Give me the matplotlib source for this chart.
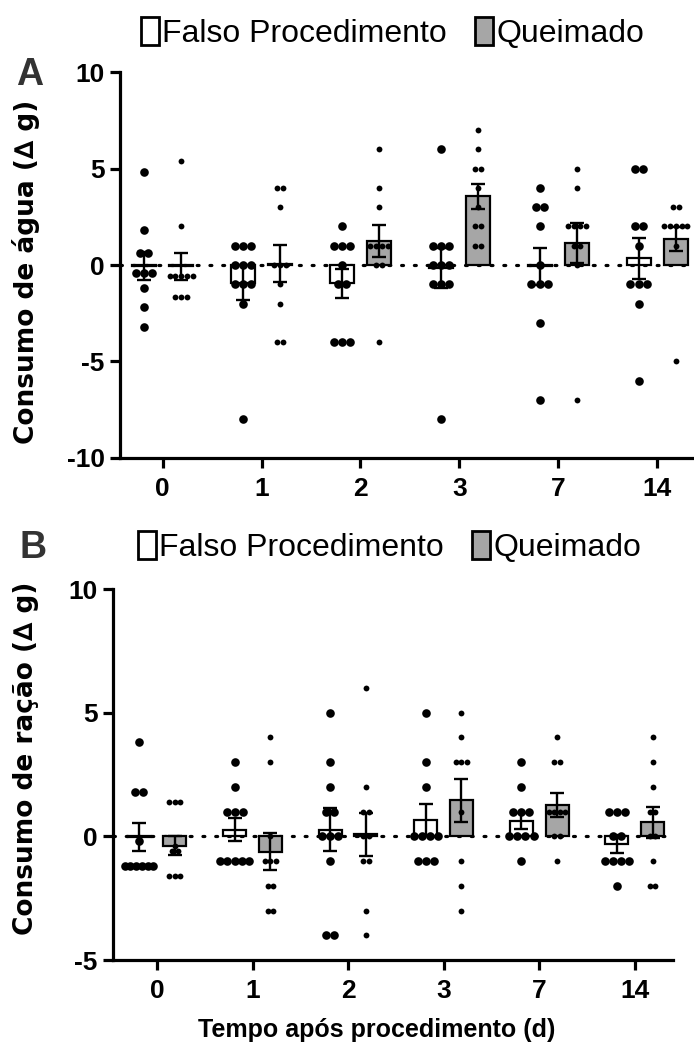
import numpy as np
import matplotlib
matplotlib.use("Agg")
import matplotlib.pyplot as plt
from matplotlib.patches import Patch

plt.rcParams['font.family'] = ['Liberation Sans', 'DejaVu Sans']
plt.rcParams['axes.unicode_minus'] = False

days = ["0", "1", "2", "3", "7", "14"]
labels = ["Falso Procedimento", "Queimado"]

# A - consumo de agua (individual animals)
agua_falso = [
    [4.8, 1.8, 0.6, 0.6, -0.4, -0.4, -0.4, -1.2, -2.2, -3.2],
    [1, 1, 1, 0, 0, 0, -1, -1, -1, -2, -8],
    [2, 1, 1, 1, 0, -1, -1, -4, -4, -4],
    [6, 1, 1, 1, 0, 0, 0, -1, -1, -1, -8],
    [4, 3, 3, 2, 0, -1, -1, -1, -3, -7],
    [5, 5, 2, 2, 1, -1, -1, -1, -2, -6],
]
agua_queim = [
    [5.4, 2.0, -0.55, -0.55, -0.55, -0.55, -0.55, -1.65, -1.65, -1.65],
    [4, 4, 3, 0, 0, 0, -1, -2, -4, -4],
    [6, 4, 3, 1, 1, 1, 1, 0, 0, -4],
    [7, 6, 5, 5, 4, 3, 2, 2, 1, 1],
    [5, 4, 2, 2, 2, 2, 1, 1, 0, -7],
    [3, 3, 2, 2, 2, 2, 2, 1, -5],
]
agua_falso_mean = [-0.04, -0.92, -0.95, -0.14, -0.07, 0.34]
agua_falso_sem = [0.73, 0.90, 0.75, 1.03, 0.97, 1.08]
agua_queim_mean = [-0.07, 0.07, 1.24, 3.55, 1.15, 1.33]
agua_queim_sem = [0.70, 0.95, 0.83, 0.66, 1.03, 0.62]

# B - consumo de racao
racao_falso = [
    [3.8, 1.8, 1.8, -0.2, -1.2, -1.2, -1.2, -1.2, -1.2, -1.2],
    [3, 2, 1, 1, 1, -1, -1, -1, -1, -1],
    [5, 3, 2, 1, 1, 0, 0, 0, -1, -4, -4],
    [5, 3, 2, 0, 0, 0, 0, -1, -1, -1],
    [3, 2, 1, 1, 1, 0, 0, 0, 0, -1],
    [1, 1, 1, 0, 0, -1, -1, -1, -1, -2],
]
racao_queim = [
    [1.4, 1.4, 1.4, -0.4, -0.6, -0.6, -1.6, -1.6, -1.6],
    [4, 3, 0, -1, -1, -1, -2, -2, -3, -3],
    [6, 2, 1, 1, 0, 0, -1, -1, -3, -4],
    [5, 4, 3, 3, 3, 1, -1, -2, -3],
    [4, 3, 3, 1, 1, 1, 1, 0, 0, -1],
    [4, 3, 2, 1, 1, 0, 0, -1, -2, -2],
]
racao_falso_mean = [-0.04, 0.27, 0.27, 0.65, 0.63, -0.31]
racao_falso_sem = [0.57, 0.47, 0.88, 0.65, 0.33, 0.37]
racao_queim_mean = [-0.37, -0.63, 0.08, 1.46, 1.27, 0.57]
racao_queim_sem = [0.40, 0.75, 0.87, 0.86, 0.49, 0.62]


def swarm(vals, center, step, maxw):
    # spread tied values side by side
    vals = np.asarray(vals, float)
    xs = np.zeros(len(vals))
    used = np.zeros(len(vals), bool)
    for i in range(len(vals)):
        if used[i]:
            continue
        idx = np.where((np.abs(vals - vals[i]) < 0.15) & ~used)[0]
        used[idx] = True
        n = len(idx)
        s = step if n < 2 else min(step, maxw / (n - 1))
        xs[idx] = center + (np.arange(n) - (n - 1) / 2) * s
    return xs


def panel(ax, falso, queim, fm, fs, qm, qs, ylim, yticks, xlim):
    x = np.arange(len(days))
    off, bw = 0.187, 0.24
    ax.axhline(0, color='black', lw=2.3, ls=(0, (0.6, 3.4)),
               dash_capstyle='round', zorder=1)
    ax.bar(x - off, fm, bw, color='white', edgecolor='black', lw=1.6, zorder=2)
    ax.bar(x + off, qm, bw, color='#a6a6a6', edgecolor='black', lw=1.6, zorder=2)
    for i in range(len(days)):
        ax.plot(swarm(falso[i], x[i] - off, 0.085, 0.3), falso[i], 'o',
                color='black', ms=6.2, mew=0, zorder=3)
        ax.plot(swarm(queim[i], x[i] + off, 0.058, 0.3), queim[i], 'o',
                color='black', ms=4.2, mew=0, zorder=3)
    ax.errorbar(x - off, fm, yerr=fs, fmt='none', ecolor='black',
                elinewidth=1.7, capsize=5, capthick=1.7, zorder=4)
    ax.errorbar(x + off, qm, yerr=qs, fmt='none', ecolor='black',
                elinewidth=1.7, capsize=5, capthick=1.7, zorder=4)
    ax.set_xlim(*xlim)
    ax.set_ylim(*ylim)
    ax.set_yticks(yticks)
    ax.set_xticks(x)
    ax.set_xticklabels(days)
    for s in ['top', 'right']:
        ax.spines[s].set_visible(False)
    for s in ['left', 'bottom']:
        ax.spines[s].set_linewidth(2.3)
    ax.tick_params(length=7, width=2.3, labelsize=19, pad=4)
    ax.tick_params(axis='x', pad=7)
    for t in ax.get_xticklabels() + ax.get_yticklabels():
        t.set_fontweight('bold')
    handles = [Patch(facecolor='white', edgecolor='black', lw=2),
               Patch(facecolor='#a6a6a6', edgecolor='black', lw=2)]
    return handles


fig = plt.figure(figsize=(6.94, 10.56), dpi=100)

axA = fig.add_axes([0.1729, 0.5663, 0.8271, 0.3655])
h = panel(axA, agua_falso, agua_queim, agua_falso_mean, agua_falso_sem,
          agua_queim_mean, agua_queim_sem, (-10, 10), [-10, -5, 0, 5, 10],
          (-0.43, 5.37))
axA.legend(h, labels, loc='center left', bbox_to_anchor=(141 / 694, 1 - 33 / 1056),
           bbox_transform=fig.transFigure, ncol=2, frameon=False, fontsize=23,
           handlelength=0.55, handleheight=1.0, handletextpad=0.1,
           columnspacing=0.9, borderaxespad=0, borderpad=0)

axB = fig.add_axes([0.1628, 0.0909, 0.8069, 0.3513])
h = panel(axB, racao_falso, racao_queim, racao_falso_mean, racao_falso_sem,
          racao_queim_mean, racao_queim_sem, (-5, 10), [-5, 0, 5, 10],
          (-0.46, 5.40))
axB.legend(h, labels, loc='center left', bbox_to_anchor=(138 / 694, 1 - 547 / 1056),
           bbox_transform=fig.transFigure, ncol=2, frameon=False, fontsize=23,
           handlelength=0.55, handleheight=1.0, handletextpad=0.1,
           columnspacing=0.9, borderaxespad=0, borderpad=0)

fig.text(26 / 694, 1 - 272 / 1056, u"Consumo de água (\u2206 g)", rotation=90,
         ha='center', va='center', fontsize=19, fontweight='bold',
         family='DejaVu Sans')
fig.text(26 / 694, 1 - 758 / 1056, u"Consumo de ração (\u2206 g)", rotation=90,
         ha='center', va='center', fontsize=19, fontweight='bold',
         family='DejaVu Sans')
fig.text(377 / 694, 1 - 1030 / 1056, u"Tempo após procedimento (d)", ha='center',
         va='center', fontsize=18, fontweight='bold')
fig.text(30 / 694, 1 - 75 / 1056, "A", ha='center', va='center', fontsize=27,
         fontweight='bold', color='#333333')
fig.text(33 / 694, 1 - 548 / 1056, "B", ha='center', va='center', fontsize=27,
         fontweight='bold', color='#333333')

fig.savefig("out.png", dpi=100)
